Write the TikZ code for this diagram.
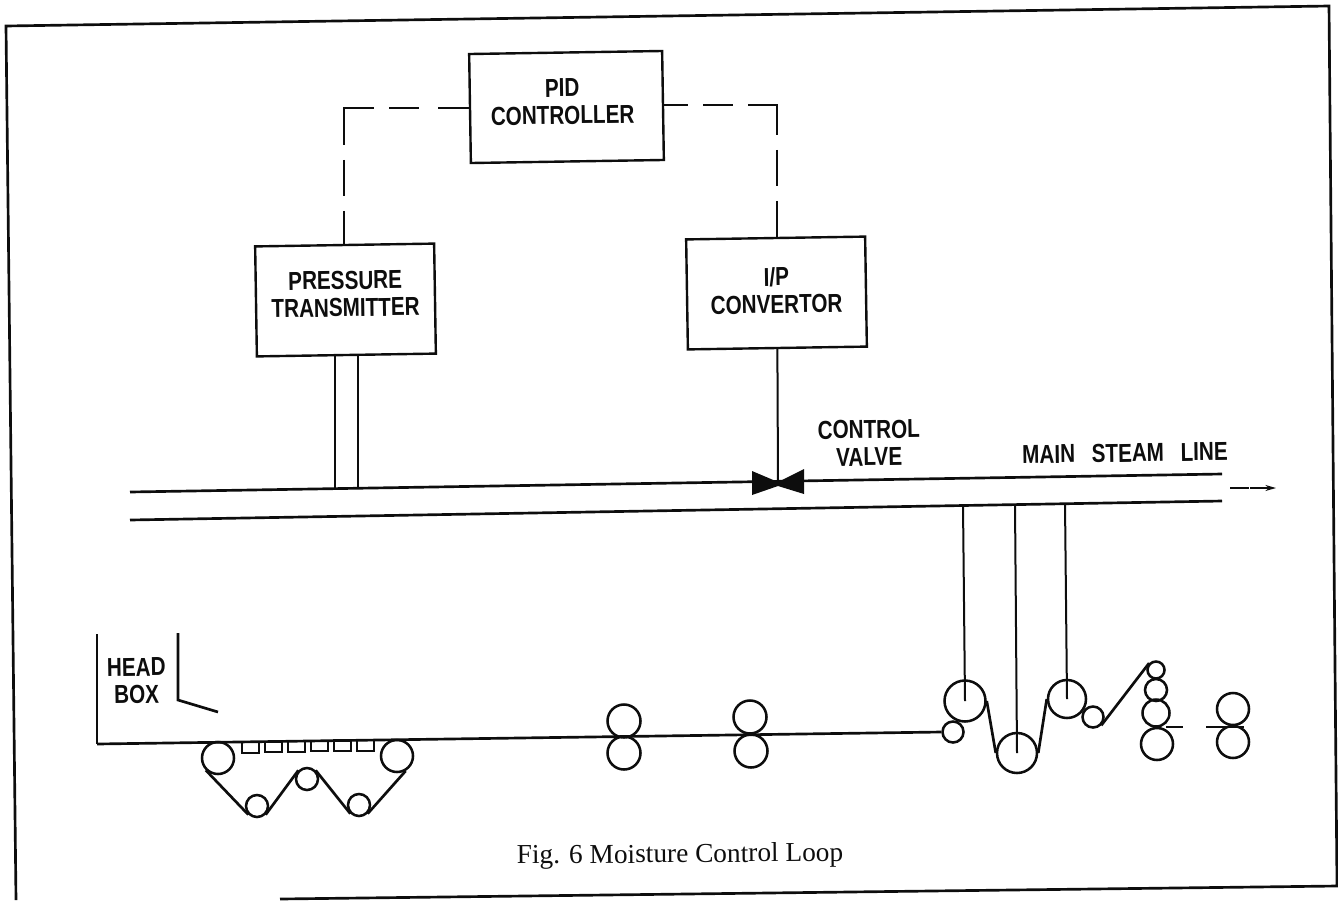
\documentclass[tikz,border=0pt]{standalone}
\usepackage{fontspec}
\usepackage{graphicx}
\setmainfont{Liberation Sans}
\newfontfamily\capfont{Liberation Serif}
\usetikzlibrary{arrows.meta}
\newcommand\cond[1]{\scalebox{0.795}[1]{#1}}
\tikzset{
  x=0.75pt,y=-0.75pt,
  ln/.style={draw=black!95,line width=2pt},
  thin ln/.style={draw=black!95,line width=1.5pt},
  blockbox/.style={draw=black!95,line width=1.8pt,minimum width=#1,inner sep=0pt,rotate=0.9},
  label txt/.style={inner sep=0pt,align=center,text=black!95,rotate=0.9,font=\bfseries\fontsize{19.5}{20.5}\selectfont},
  sig/.style={draw=black!95,line width=1.4pt},
  roll/.style={circle,draw=black!95,line width=1.9pt,inner sep=0pt,minimum size=#1*0.75pt},
  foil/.style={draw=black!95,line width=1pt}
}
\begin{document}
\begin{tikzpicture}
\useasboundingbox (0,0) rectangle (1338,900);
% frame
\coordinate (fa) at (16,900); \coordinate (fb) at (6,26); \coordinate (fc) at (1329,6);
\coordinate (fd) at (280,899); \coordinate (fe) at (1337,886);
\draw[ln,line join=miter] (fa)--(fb)--(fc)--(fe)--(fd);
% blocks
\node[blockbox=144.75pt,minimum height=81.75pt,label={[label txt,yshift=4pt,xshift=-3pt]center:{\cond{PID}\\\cond{CONTROLLER}}}] (pid) at (566.5,107) {};
\node[blockbox=134.25pt,minimum height=82.5pt,label={[label txt,yshift=4.5pt]center:{\cond{PRESSURE}\\\cond{TRANSMITTER}}}] (pt) at (345.5,300) {};
\node[blockbox=134.25pt,minimum height=82.5pt,label={[label txt,yshift=2pt]center:{\cond{I/P}\\\cond{CONVERTOR}}}] (ip) at (776.5,293) {};
\coordinate (da) at (344,108); \coordinate (db) at (777,105);
\draw[sig,dash pattern=on 23.25pt off 14.25pt on 22.5pt off 11.25pt on 50pt off 11.25pt on 27pt off 11.25pt on 40pt] (pid.west |- da)--(da)--(da |- pt.north);
\draw[sig,dash pattern=on 18pt off 11.25pt on 22.5pt off 11.25pt on 44pt off 11.25pt on 27pt off 11.25pt on 40pt] (pid.east |- db)--(db)--(db |- ip.north);
% pipes
\coordinate (ua) at (130,492); \coordinate (ub) at (1222,474);
\coordinate (la) at (130,520); \coordinate (lb) at (1222,501);
\draw[ln] (ua)--(ub);
\draw[ln] (la)--(lb);
\coordinate (pa) at (335,489); \coordinate (pb) at (358,489);
\draw[thin ln] (pa |- pt.south)--(pa);
\draw[thin ln] (pb |- pt.south)--(pb);
\coordinate (vc) at (778,484);
\draw[thin ln] (ip.south)--(vc);
\fill[black!95] (752,471)--(778,482)--(804,469)--(804,494)--(778,486)--(752,495)--cycle;
\coordinate (ara) at (1230,488); \coordinate (arb) at (1276,488);
\draw[foil,-{Stealth[length=8pt,width=4.5pt]},dash pattern=on 14pt off 1pt] (ara)--(arb);
\node[label txt] (cv) at (869,443) {\cond{CONTROL}\\\cond{VALVE}};
\node[label txt] (ms) at (1125,453) {\cond{MAIN}\hspace{0.64em}\cond{STEAM}\hspace{0.64em}\cond{LINE}};
% head box
\coordinate (h1) at (97,634); \coordinate (h2) at (97,744);
\draw[ln] (h1)--(h2);
\coordinate (h4) at (178,633); \coordinate (h5) at (178,700); \coordinate (h6) at (218,712);
\draw[ln] (h4)--(h5)--(h6);
\node[label txt] (hb) at (136.5,681) {\cond{HEAD}\\\cond{BOX}};
% forming section
\node[roll=32] (f1) at (218,758) {};
\node[roll=32] (f2) at (397,756) {};
\node[roll=22] (f3) at (257,806) {};
\node[roll=22] (f4) at (307,779) {};
\node[roll=22] (f5) at (359,805) {};
\foreach \i in {0,...,5}{
  \draw[thin ln] (242+\i*23,{742-\i*0.4}) rectangle (259+\i*23,{752.5-\i*0.4});
}
\draw[ln] (f1.south west)--(f3.south west);
\draw[ln] (f3.south east)--(f4.north west);
\draw[ln] (f4.north east)--(f5.south west);
\draw[ln] (f5.south east)--(f2.-60);
% press rolls
\node[roll=33] (p1) at (624,721) {};
\node[roll=33] (p2) at (624,753) {};
\node[roll=33] (p3) at (750,717) {};
\node[roll=33] (p4) at (751,751) {};
% dryers
\node[roll=41] (d1) at (965,701) {};
\node[roll=21] (d0) at (953,732) {};
\node[roll=40] (d2) at (1017,753) {};
\node[roll=38] (d3) at (1067,699) {};
\node[roll=21] (d4) at (1093,717) {};
\node[roll=17] (c1) at (1156,670) {};
\node[roll=22] (c2) at (1156,690) {};
\node[roll=27] (c3) at (1156,713) {};
\node[roll=32] (c4) at (1157,744) {};
\node[roll=32] (r1) at (1233,709) {};
\node[roll=32] (r2) at (1233,742) {};
\draw[ln] (h2)--(d0.west);
\draw[ln] (d1.east)--(d2.west);
\draw[ln] (d2.east)--(d3.west);
\draw[ln] (d4.south east)--(c1.north west);
\coordinate (t1) at (1183,727); \coordinate (t2) at (1206,727); \coordinate (t3) at (1244,727);
\draw[ln] (c3.south east |- t1)--(t1);
\draw[ln] (t2)--(t3);
\draw[thin ln] (963,505)--(d1.center);
\draw[thin ln] (1015,504)--(d2.center);
\draw[thin ln] (1065,503)--(d3.center);
\node[inner sep=0pt,text=black!95,rotate=0.5,font=\capfont\fontsize{20.5}{24}\selectfont] (cap) at (680,856) {Fig. 6 Moisture Control Loop};
\end{tikzpicture}
\end{document}
